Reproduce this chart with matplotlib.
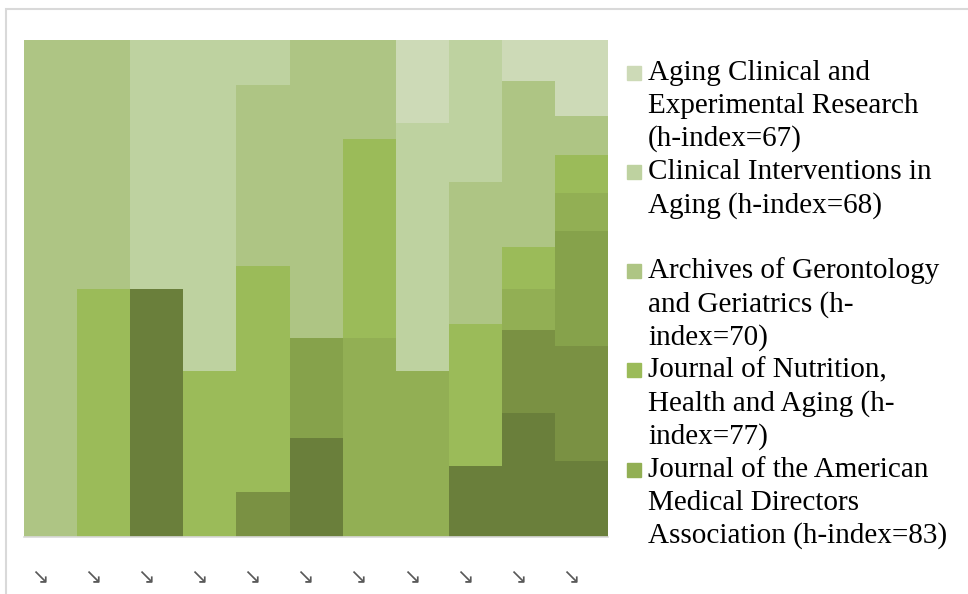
import numpy as np
import matplotlib.pyplot as plt
import matplotlib.transforms as mtransforms
from matplotlib.patches import Rectangle

plt.rcParams['font.family'] = ['Liberation Serif', 'DejaVu Sans']

# 11 groups, shares of 8 journals (only the first 5 fit in the legend box)
groups = [str(i) for i in range(1, 12)]
group_labels = ['\u2198'] * 11

journals = [
    ["Aging Clinical and", "Experimental Research", "(h-index=67)"],
    ["Clinical Interventions in", "Aging (h-index=68)", ""],
    ["Archives of Gerontology", "and Geriatrics (h-", "index=70)"],
    ["Journal of Nutrition,", "Health and Aging (h-", "index=77)"],
    ["Journal of the American", "Medical Directors", "Association (h-index=83)"],
    ["Series 6"], ["Series 7"], ["Series 8"],
]
colors = ['#CDDAB7', '#BED2A0', '#AEC584', '#9BBB59',
          '#92AF54', '#86A24B', '#7A9143', '#6A7F3B']

# article counts per group, one list per journal (top of the stack first)
j1 = [0, 0, 0, 0, 0, 0, 0, 1, 0, 1, 2]
j2 = [0, 0, 1, 2, 1, 0, 0, 3, 2, 0, 0]
j3 = [1, 1, 0, 0, 4, 3, 1, 0, 2, 4, 1]
j4 = [0, 1, 0, 1, 5, 0, 2, 0, 2, 1, 1]
j5 = [0, 0, 0, 0, 0, 0, 2, 2, 0, 1, 1]
j6 = [0, 0, 0, 0, 0, 1, 0, 0, 0, 0, 3]
j7 = [0, 0, 0, 0, 1, 0, 0, 0, 0, 2, 3]
j8 = [0, 0, 1, 0, 0, 1, 0, 0, 1, 3, 2]
counts = np.array([j1, j2, j3, j4, j5, j6, j7, j8], float)
shares = counts / counts.sum(axis=0)

W, H = 968, 594
fig = plt.figure(figsize=(W / 100, H / 100), dpi=100)
ax = fig.add_axes([24 / W, 1 - 537 / H, (608.3 - 24) / W, (537 - 40) / H])

x = np.arange(len(groups))
bottom = np.zeros(len(groups))
# 100% stacked, darkest series at the bottom
for k in range(len(journals) - 1, -1, -1):
    ax.bar(x, shares[k], width=1.0, bottom=bottom, color=colors[k],
           edgecolor='none', linewidth=0)
    bottom += shares[k]

ax.set_xlim(-0.5, len(groups) - 0.5)
ax.set_ylim(0, 1)
ax.set_yticks([])
for s in ['top', 'right', 'left']:
    ax.spines[s].set_visible(False)
ax.spines['bottom'].set_color('#D9D9D9')
ax.spines['bottom'].set_linewidth(1.2)

ax.set_xticks(x, group_labels, family='DejaVu Sans', fontsize=15, color='#595959')
ax.tick_params(axis='x', length=0, pad=21)
off = mtransforms.ScaledTranslation(-11 / 100, 0, fig.dpi_scale_trans)
for lab in ax.get_xticklabels():
    lab.set_transform(lab.get_transform() + off)

# legend drawn by hand: first five journals, evenly spaced lines
line0, dy = 80, 33.05
row = 0
for k in range(5):
    yb = line0 + row * dy
    fig.patches.append(Rectangle((627 / W, 1 - yb / H), 14 / W, 14 / H,
                                 transform=fig.transFigure, color=colors[k]))
    for line in journals[k]:
        fig.text(648 / W, 1 - (line0 + row * dy) / H, line, fontsize=21,
                 va='baseline', ha='left', color='black')
        row += 1

# light frame around the chart
fig.patches.append(Rectangle((6 / W, -0.1), 1.0, 1.1 - 9 / H, transform=fig.transFigure,
                             fill=False, edgecolor='#D9D9D9', linewidth=1.5))

fig.savefig('out.png', dpi=100)
